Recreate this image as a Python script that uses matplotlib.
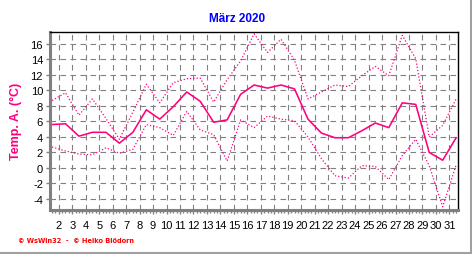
import matplotlib
matplotlib.use("Agg")
import matplotlib.pyplot as plt
from matplotlib.lines import Line2D
import numpy as np

days = list(range(1, 32))
temp_mean = [5.6, 5.7, 4.1, 4.6, 4.6, 3.2, 4.6, 7.5, 6.3, 7.9, 9.8, 8.6, 5.9, 6.2, 9.5, 10.7,
             10.3, 10.7, 10.2, 6.3, 4.5, 3.9, 3.9, 4.8, 5.8, 5.2, 8.4, 8.2, 2.0, 1.0, 3.9]
temp_max = [8.7, 9.7, 6.8, 8.9, 6.4, 3.7, 7.2, 10.8, 8.4, 11.0, 11.5, 11.6, 8.5, 11.4, 13.8, 17.3,
            14.9, 16.6, 13.9, 8.9, 9.8, 10.7, 10.5, 11.9, 13.1, 11.9, 17.1, 14.1, 4.0, 5.5, 8.9]
temp_min = [2.7, 2.2, 1.8, 1.7, 2.6, 1.9, 2.4, 5.6, 5.2, 4.2, 7.3, 4.9, 4.3, 0.9, 6.2, 5.2,
            6.7, 6.3, 6.1, 4.0, 1.2, -1.0, -1.3, 0.3, 0.2, -1.5, 1.6, 3.7, 0.3, -5.0, 0.4]
xtick_labels = [str(d) for d in range(2, 32)]
yticks = list(range(-4, 17, 2))

W, H = 472, 255
fig = plt.figure(figsize=(W / 100, H / 100), dpi=100)
ax = fig.add_axes([50 / W, 1 - 211 / H, (457.5 - 50) / W, (211 - 32.5) / H])

x = np.array(days) + 0.5
pink = '#ff0080'
ax.plot(x, temp_max, color=pink, lw=0.9, ls=(0, (1, 1.6)))
ax.plot(x, temp_min, color=pink, lw=0.9, ls=(0, (1, 1.6)))
ax.plot(x, temp_mean, color=pink, lw=1.15, ls='-')

ax.set_xlim(1.35, 31.6)
ax.set_ylim(-5.42, 17.6)

ax.set_xticks(range(2, 32))
ax.set_xticklabels(xtick_labels)
ax.set_xticks(np.arange(1.5, 31.6, 0.25), minor=True)
ax.set_yticks(yticks)
ax.set_yticklabels([str(v) for v in yticks])

ax.grid(True, which='major', color='#808080', ls=(0, (5, 4)), lw=0.8)
ax.set_axisbelow(True)

for s in ['top', 'right']:
    ax.spines[s].set_color('black')
    ax.spines[s].set_linewidth(1.0)
for s in ['left', 'bottom']:
    ax.spines[s].set_color('#808080')
    ax.spines[s].set_linewidth(2.2)

ax.tick_params(axis='x', which='major', length=3, width=1, color='#808080',
               labelsize=8, pad=4, labelcolor='black')
ax.tick_params(axis='x', which='minor', length=2.5, width=1, color='#808080')
ax.tick_params(axis='y', which='major', length=3, width=1, color='#808080',
               labelsize=8, pad=2, labelcolor='black')
for lab in ax.get_xticklabels() + ax.get_yticklabels():
    lab.set_family(['Liberation Sans', 'DejaVu Sans'])

ax.set_ylabel('Temp. A. (°C)', color=pink, fontsize=9, fontweight='bold',
              family=['Liberation Sans', 'DejaVu Sans'], labelpad=6)

fig.text(237 / W, 1 - 18.5 / H, 'März 2020', color='#0000ff', fontsize=8.5,
         fontweight='bold', ha='center', va='center',
         family=['Liberation Sans', 'DejaVu Sans'])
fig.text(18 / W, 1 - 241 / H, '© WsWin32  -  © Heiko Blödorn', color='#ff0000',
         fontsize=4.8, fontweight='bold', ha='left', va='center',
         family=['DejaVu Sans'])

fig.add_artist(Line2D([470.5 / W, 470.5 / W], [0, 1], color='#a0a0a0', lw=1.5,
                      transform=fig.transFigure))
fig.add_artist(Line2D([0, 471 / W], [1 - 253.5 / H, 1 - 253.5 / H], color='#a0a0a0',
                      lw=1.5, transform=fig.transFigure))

fig.savefig('out.png', dpi=100)
